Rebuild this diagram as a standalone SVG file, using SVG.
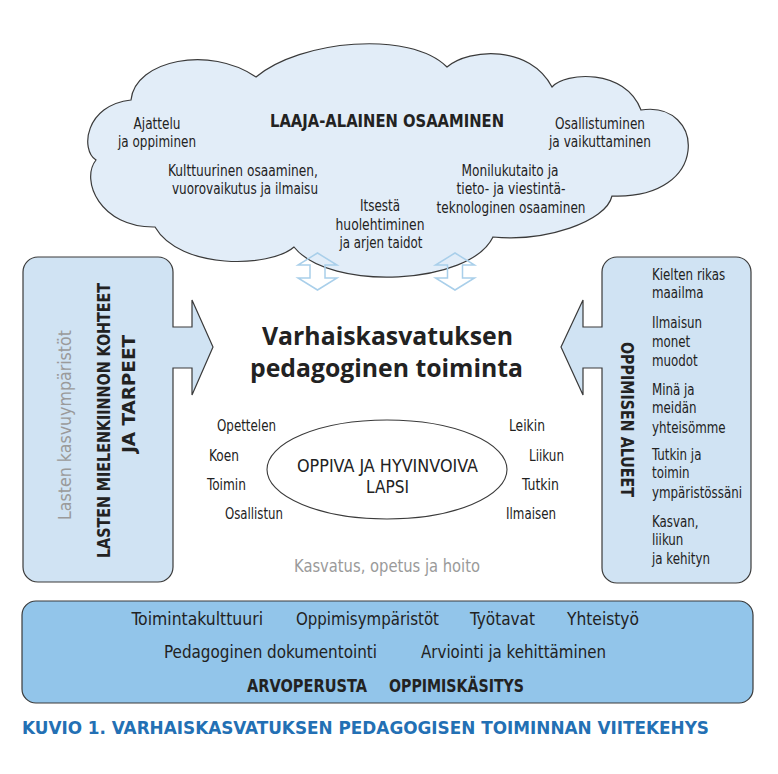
<svg xmlns="http://www.w3.org/2000/svg" width="778" height="774" viewBox="0 0 778 774">
<style>
.t{font-family:'DejaVu Sans Condensed','DejaVu Sans','Liberation Sans',sans-serif;font-stretch:condensed;fill:#222;}
.b{font-weight:bold;}
.c{text-anchor:middle;}
.f15{font-size:15px;}
.f16{font-size:16px;}
.f18{font-size:18px;}
.gray{fill:#9a9a9a;}
.title{font-family:'Open Sans','Noto Sans','DejaVu Sans',sans-serif;font-weight:bold;font-size:25px;fill:#222;text-anchor:middle;}
.shape{stroke:#3a3a3a;stroke-width:1.2;}
.dbl{fill:none;stroke:#a9cfea;stroke-width:1.5;stroke-linejoin:miter;}
</style>
<rect width="778" height="774" fill="#ffffff"/>

<g id="cloud">
<path class="shape" fill="#e2edf8" d="M131,100 C135,60 210,45 256,77 C300,40 410,30 447,67 C470,48 530,45 552,87 C565,72 625,68 641,110 C705,100 712,200 612,196 C606,222 545,242 493,237 C470,285 330,292 294,247 C270,268 180,270 155,227 C100,228 80,180 96,160 C80,150 85,105 131,100 Z"/>
<text class="t b f18 c" x="387" y="127" textLength="234" lengthAdjust="spacingAndGlyphs">LAAJA-ALAINEN OSAAMINEN</text>
<text class="t f15 c" x="157" y="129" textLength="47" lengthAdjust="spacingAndGlyphs">Ajattelu</text>
<text class="t f15 c" x="157" y="147" textLength="78" lengthAdjust="spacingAndGlyphs">ja oppiminen</text>
<text class="t f15 c" x="600" y="129" textLength="90" lengthAdjust="spacingAndGlyphs">Osallistuminen</text>
<text class="t f15 c" x="600" y="147" textLength="102" lengthAdjust="spacingAndGlyphs">ja vaikuttaminen</text>
<text class="t f15 c" x="243" y="176" textLength="150" lengthAdjust="spacingAndGlyphs">Kulttuurinen osaaminen,</text>
<text class="t f15 c" x="245" y="194" textLength="146" lengthAdjust="spacingAndGlyphs">vuorovaikutus ja ilmaisu</text>
<text class="t f15 c" x="510" y="176" textLength="97" lengthAdjust="spacingAndGlyphs">Monilukutaito ja</text>
<text class="t f15 c" x="511" y="194" textLength="109" lengthAdjust="spacingAndGlyphs">tieto- ja viestintä-</text>
<text class="t f15 c" x="511" y="213" textLength="149" lengthAdjust="spacingAndGlyphs">teknologinen osaaminen</text>
<text class="t f15 c" x="380" y="211" textLength="40" lengthAdjust="spacingAndGlyphs">Itsestä</text>
<text class="t f15 c" x="380" y="230" textLength="89" lengthAdjust="spacingAndGlyphs">huolehtiminen</text>
<text class="t f15 c" x="381" y="248" textLength="83" lengthAdjust="spacingAndGlyphs">ja arjen taidot</text>
</g>

<g id="connectors">
<path class="dbl" d="M317.5,253 L337,265 H325 V278 H337 L317.5,290 L298,278 H310 V265 H298 Z"/>
<path class="dbl" d="M455,253 L474.5,265 H462.5 V278 H474.5 L455,290 L435.5,278 H447.5 V265 H435.5 Z"/>
</g>

<g id="left-box">
<path class="shape" fill="#d0e3f3" d="M38,257 H158 A15,15 0 0 1 173,272 V327 H192 V300 L213,347 L192,395 V368 H173 V567 A15,15 0 0 1 158,582 H38 A15,15 0 0 1 23,567 V272 A15,15 0 0 1 38,257 Z"/>
<text class="t f18 c gray" transform="translate(71,425) rotate(-90)" textLength="190" lengthAdjust="spacingAndGlyphs">Lasten kasvuympäristöt</text>
<text class="t b f18 c" transform="translate(109.5,420.5) rotate(-90)" textLength="275" lengthAdjust="spacingAndGlyphs">LASTEN MIELENKIINNON KOHTEET</text>
<text class="t b f18 c" transform="translate(134.5,394) rotate(-90)" textLength="118" lengthAdjust="spacingAndGlyphs">JA TARPEET</text>
</g>

<g id="right-box">
<path class="shape" fill="#d0e3f3" d="M617,257 H736 A15,15 0 0 1 751,272 V568 A15,15 0 0 1 736,583 H617 A15,15 0 0 1 602,568 V368 H583 V395 L561,347 L583,300 V327 H602 V272 A15,15 0 0 1 617,257 Z"/>
<text class="t b f18 c" transform="translate(620.5,419.5) rotate(90)" textLength="155" lengthAdjust="spacingAndGlyphs">OPPIMISEN ALUEET</text>
<g transform="matrix(0.88,0,0,1,78.24,0)">
<text class="t f15" x="652" y="280">Kielten rikas</text>
<text class="t f15" x="652" y="298">maailma</text>
<text class="t f15" x="652" y="328">Ilmaisun</text>
<text class="t f15" x="652" y="347">monet</text>
<text class="t f15" x="652" y="366">muodot</text>
<text class="t f15" x="652" y="395">Minä ja</text>
<text class="t f15" x="652" y="413">meidän</text>
<text class="t f15" x="652" y="433">yhteisömme</text>
<text class="t f15" x="652" y="460">Tutkin ja</text>
<text class="t f15" x="652" y="478">toimin</text>
<text class="t f15" x="652" y="498">ympäristössäni</text>
<text class="t f15" x="652" y="527">Kasvan,</text>
<text class="t f15" x="652" y="545">liikun</text>
<text class="t f15" x="652" y="564">ja kehityn</text>
</g>
</g>

<g id="center">
<text class="title" x="387.5" y="345" textLength="251" lengthAdjust="spacingAndGlyphs">Varhaiskasvatuksen</text>
<text class="title" x="386.5" y="377" textLength="273" lengthAdjust="spacingAndGlyphs">pedagoginen toiminta</text>
</g>

<g id="child">
<ellipse cx="387" cy="469.5" rx="120" ry="49.5" fill="#ffffff" stroke="#3a3a3a" stroke-width="1.1"/>
<text class="t f18 c" x="387.5" y="472" textLength="181" lengthAdjust="spacingAndGlyphs">OPPIVA JA HYVINVOIVA</text>
<text class="t f18 c" x="387.5" y="493" textLength="43" lengthAdjust="spacingAndGlyphs">LAPSI</text>
</g>

<g id="verbs">
<text class="t f15" x="217" y="431" textLength="59" lengthAdjust="spacingAndGlyphs">Opettelen</text>
<text class="t f15" x="209" y="461" textLength="30" lengthAdjust="spacingAndGlyphs">Koen</text>
<text class="t f15" x="207" y="490" textLength="39" lengthAdjust="spacingAndGlyphs">Toimin</text>
<text class="t f15" x="225" y="519" textLength="58" lengthAdjust="spacingAndGlyphs">Osallistun</text>
<text class="t f15" x="509" y="431" textLength="36" lengthAdjust="spacingAndGlyphs">Leikin</text>
<text class="t f15" x="529" y="461" textLength="35" lengthAdjust="spacingAndGlyphs">Liikun</text>
<text class="t f15" x="522" y="490" textLength="37" lengthAdjust="spacingAndGlyphs">Tutkin</text>
<text class="t f15" x="506" y="519" textLength="50" lengthAdjust="spacingAndGlyphs">Ilmaisen</text>
<text class="t f18 c gray" x="387" y="572" textLength="186" lengthAdjust="spacingAndGlyphs">Kasvatus, opetus ja hoito</text>
</g>

<g id="foundation-bar">
<rect class="shape" x="22" y="601" width="731" height="102" rx="14" ry="14" fill="#92c5ea"/>
<text class="t f18" x="131.5" y="625" textLength="131.5" lengthAdjust="spacingAndGlyphs">Toimintakulttuuri</text>
<text class="t f18" x="296" y="625" textLength="143" lengthAdjust="spacingAndGlyphs">Oppimisympäristöt</text>
<text class="t f18" x="470" y="625" textLength="65" lengthAdjust="spacingAndGlyphs">Työtavat</text>
<text class="t f18" x="567" y="625" textLength="72" lengthAdjust="spacingAndGlyphs">Yhteistyö</text>
<text class="t f18" x="164" y="658" textLength="213" lengthAdjust="spacingAndGlyphs">Pedagoginen dokumentointi</text>
<text class="t f18" x="421" y="658" textLength="185" lengthAdjust="spacingAndGlyphs">Arviointi ja kehittäminen</text>
<text class="t b f18" x="247" y="692" textLength="120" lengthAdjust="spacingAndGlyphs">ARVOPERUSTA</text>
<text class="t b f18" x="389" y="692" textLength="135" lengthAdjust="spacingAndGlyphs">OPPIMISKÄSITYS</text>
</g>

<g id="caption">
<text class="t b" x="22" y="734" font-size="18" style="fill:#2370b4" textLength="687" lengthAdjust="spacingAndGlyphs">KUVIO 1. VARHAISKASVATUKSEN PEDAGOGISEN TOIMINNAN VIITEKEHYS</text>
</g>
</svg>
